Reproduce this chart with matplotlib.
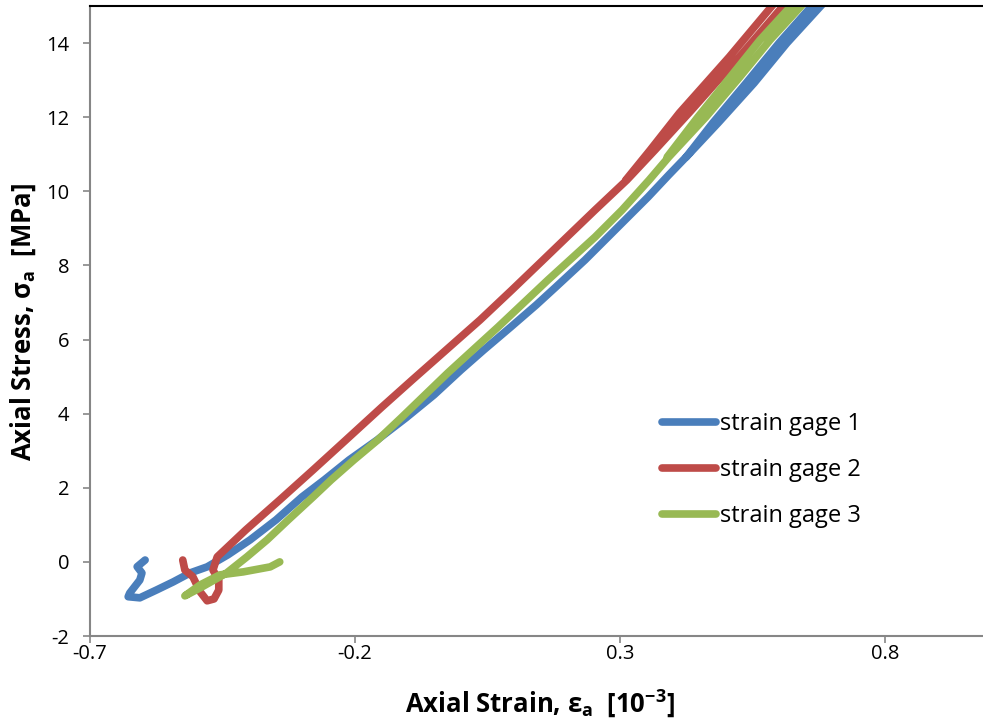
import matplotlib
matplotlib.use("Agg")
import matplotlib.pyplot as plt

plt.rcParams["font.family"] = ["Open Sans", "DejaVu Sans"]
plt.rcParams["mathtext.fontset"] = "custom"
plt.rcParams["mathtext.rm"] = "Open Sans"
plt.rcParams["mathtext.it"] = "Open Sans:italic"
plt.rcParams["mathtext.bf"] = "Open Sans:bold"
plt.rcParams["axes.unicode_minus"] = False

# Axial strain [1e-3] and axial stress [MPa] for each strain gage.
# Loading branch runs from the seating hook up past the top of the axes,
# unloading branch comes back down on the adjacent strand.
gage1_load_strain = [-0.596, -0.611, -0.602, -0.606, -0.625, -0.628, -0.606, -0.574,
                     -0.543, -0.511, -0.479, -0.440, -0.398, -0.349, -0.300, -0.258,
                     -0.211, -0.158, -0.104, -0.051, 0.000, 0.043, 0.094, 0.142,
                     0.179, 0.234, 0.285, 0.353, 0.392, 0.432, 0.485, 0.553,
                     0.615, 0.677, 0.689]
gage1_load_stress = [0.05, -0.13, -0.30, -0.49, -0.84, -0.94, -0.97, -0.755,
                     -0.540, -0.297, -0.135, 0.189, 0.593, 1.133, 1.753, 2.212,
                     2.752, 3.291, 3.885, 4.505, 5.179, 5.719, 6.339, 6.933,
                     7.418, 8.147, 8.875, 9.846, 10.440, 11.033, 11.843, 12.921,
                     14.001, 14.971, 15.16]
gage1_unload_strain = [0.670, 0.660, 0.600, 0.538, 0.475, 0.425]
gage1_unload_stress = [15.16, 14.971, 14.001, 12.921, 11.843, 10.925]

gage2_load_strain = [-0.525, -0.521, -0.506, -0.492, -0.479, -0.466, -0.457, -0.457,
                     -0.468, -0.460, -0.406, -0.342, -0.279, -0.217, -0.149, -0.092,
                     -0.028, 0.036, 0.096, 0.155, 0.200, 0.253, 0.313, 0.366,
                     0.430, 0.477, 0.525, 0.606, 0.617]
gage2_load_stress = [0.05, -0.22, -0.40, -0.81, -1.05, -1.00, -0.76, -0.49,
                     -0.22, 0.135, 0.863, 1.672, 2.482, 3.291, 4.181, 4.910,
                     5.719, 6.528, 7.337, 8.147, 8.767, 9.496, 10.305, 11.114,
                     12.112, 12.867, 13.623, 14.971, 15.16]
gage2_unload_strain = [0.596, 0.585, 0.506, 0.459, 0.412, 0.357, 0.311]
gage2_unload_stress = [15.16, 14.971, 13.623, 12.867, 12.112, 11.114, 10.305]

gage3_load_strain = [-0.342, -0.360, -0.411, -0.455, -0.492, -0.521, -0.492, -0.442,
                     -0.404, -0.366, -0.326, -0.279, -0.245, -0.202, -0.157, -0.113,
                     -0.025, 0.070, 0.164, 0.253, 0.304, 0.355, 0.392, 0.462,
                     0.526, 0.583, 0.640, 0.651]
gage3_load_stress = [0.00, -0.135, -0.270, -0.351, -0.620, -0.917, -0.701, -0.297,
                     0.135, 0.593, 1.133, 1.753, 2.212, 2.752, 3.291, 3.885,
                     5.098, 6.339, 7.607, 8.767, 9.496, 10.305, 10.925, 12.004,
                     13.083, 14.081, 14.971, 15.16]
gage3_unload_strain = [0.632, 0.621, 0.564, 0.508, 0.447, 0.389]
gage3_unload_stress = [15.16, 14.971, 14.081, 13.083, 12.004, 10.925]

series = [
    ("strain gage 1", "#4A7EBB", gage1_load_strain + gage1_unload_strain,
     gage1_load_stress + gage1_unload_stress),
    ("strain gage 2", "#BE4B48", gage2_load_strain + gage2_unload_strain,
     gage2_load_stress + gage2_unload_stress),
    ("strain gage 3", "#98B954", gage3_load_strain + gage3_unload_strain,
     gage3_load_stress + gage3_unload_stress),
]

x_ticks = [-0.7, -0.2, 0.3, 0.8]
y_ticks = [-2, 0, 2, 4, 6, 8, 10, 12, 14]

W, H = 983, 726
fig = plt.figure(figsize=(W / 100, H / 100), dpi=100)
ax = fig.add_axes([90 / W, 90 / H, 901 / W, 630 / H])

for label, color, xs, ys in series:
    ax.plot(xs, ys, color=color, lw=5.5, solid_joinstyle="round",
            solid_capstyle="round", label=label)

ax.set_xlim(-0.7, 1.0)
ax.set_ylim(-2, 15)
ax.set_xticks(x_ticks)
ax.set_xticklabels([f"{t:g}" for t in x_ticks])
ax.set_yticks(y_ticks)
ax.set_yticklabels([f"{t:g}" for t in y_ticks])

for side in ("left", "bottom"):
    ax.spines[side].set_color("#868686")
    ax.spines[side].set_linewidth(1.5)
ax.spines["right"].set_visible(False)
ax.spines["top"].set_color("black")
ax.spines["top"].set_linewidth(1.5)

ax.tick_params(axis="both", direction="out", length=5, width=1.2,
               color="#868686", labelsize=14.5, labelcolor="black")
ax.tick_params(axis="x", pad=1)
ax.tick_params(axis="y", pad=10)

fig.text(540 / W, 1 - 703 / H, r"Axial Strain, ε$_\mathbf{a}$  [10$^\mathbf{-3}$]",
         fontsize=18.5, fontweight="bold", ha="center", va="center")
fig.text(23 / W, 1 - 322 / H, r"Axial Stress, σ$_\mathbf{a}$  [MPa]",
         fontsize=18.5, fontweight="bold", ha="center", va="center", rotation=90)

ax.legend(loc="upper left", bbox_to_anchor=(662 / W, 1 - 412 / H),
          bbox_transform=fig.transFigure, frameon=False, fontsize=17,
          handlelength=2.3, handletextpad=0.17, labelspacing=0.93,
          borderaxespad=0, borderpad=0)

fig.savefig("out.png", dpi=100)
